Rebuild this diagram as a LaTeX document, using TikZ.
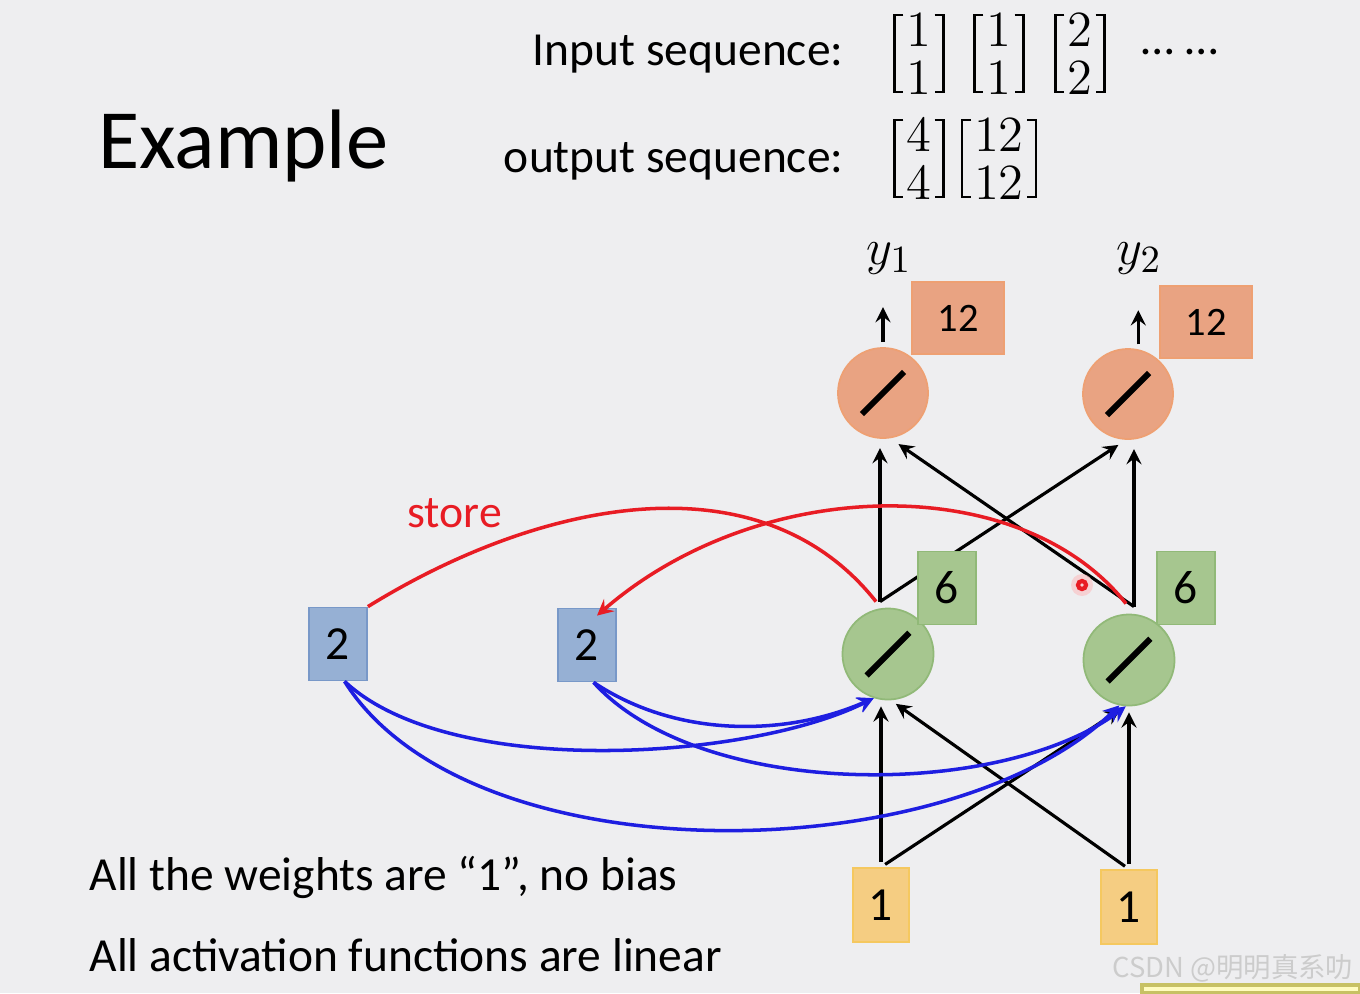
\documentclass[tikz,border=0pt]{standalone}
\usepackage{amsmath}
\usepackage{fontspec}
\setmainfont{Carlito}
\newfontfamily\cjk{Noto Sans CJK SC}
\usetikzlibrary{arrows}
\usetikzlibrary{calc}
\usetikzlibrary{positioning}
\definecolor{slidebg}{RGB}{238,238,240}
\definecolor{outfill}{RGB}{233,163,130}
\definecolor{outdraw}{RGB}{238,160,115}
\definecolor{hidfill}{RGB}{166,198,143}
\definecolor{hiddraw}{RGB}{145,185,120}
\definecolor{memfill}{RGB}{150,176,212}
\definecolor{memdraw}{RGB}{120,152,200}
\definecolor{infill}{RGB}{245,205,130}
\definecolor{indraw}{RGB}{245,200,95}
\definecolor{storered}{RGB}{232,28,36}
\definecolor{copyblue}{RGB}{30,30,225}
\newcommand{\numsize}{\fontsize{13.5}{16}\selectfont}
\tikzset{
    unit/.style={circle, inner sep=0pt, line width=0.5pt},
    outunit/.style={unit, minimum size=0.9cm, fill=outfill, draw=outdraw},
    hidunit/.style={unit, minimum size=0.91cm, fill=hidfill, draw=hiddraw},
    valbox/.style={rectangle, inner sep=0pt, line width=0.5pt, font=\numsize},
    outval/.style={valbox, minimum width=0.92cm, minimum height=0.72cm, fill=outfill, draw=outdraw, font=\fontsize{11.5}{14}\selectfont},
    hidval/.style={valbox, minimum width=0.58cm, minimum height=0.73cm, fill=hidfill, draw=hiddraw},
    memval/.style={valbox, minimum width=0.58cm, minimum height=0.73cm, fill=memfill, draw=memdraw},
    inval/.style={valbox, minimum width=0.56cm, minimum height=0.74cm, fill=infill, draw=indraw},
    slash/.style={draw=black, line width=1.7pt, shorten >=4.6pt, shorten <=4.6pt},
    vec/.style={inner xsep=3pt, inner ysep=0pt, font=\fontsize{14}{13.6}\selectfont},
    brk/.style={draw=black, line width=0.6pt},
    label/.style={inner sep=0pt, font=\fontsize{13.5}{16}\selectfont},
    note/.style={inner sep=0pt, anchor=base west, font=\fontsize{13.5}{16}\selectfont},
}

\begin{document}
\begin{tikzpicture}[x=0.01cm, y=-0.01cm, line width=0.9pt,
    wire/.style={draw=black, ->, >=stealth, shorten >=1.7pt, shorten <=1.4pt},
    upwire/.style={wire, shorten >=2.6pt, shorten <=0pt},
    storeline/.style={draw=storered, line width=1pt},
    copyline/.style={draw=copyblue, line width=1pt, ->, >=stealth}]
	\fill[slidebg] (0,0) rectangle (1360,993);
	\useasboundingbox (0,0) rectangle (1360,993);
	% header
	\node[inner sep=0pt, anchor=base west, font=\fontsize{24}{28}\selectfont] (title) at (97,168) {Example};
	\node[label, anchor=base east] (inlbl) at (845,65) {Input sequence:};
	\node[label, anchor=base east] (outlbl) at (845,172) {output sequence:};
	\node[vec] (in1) at (919,61) {$\begin{matrix}1\\1\end{matrix}$};
	\node[vec] (in2) at (999,61) {$\begin{matrix}1\\1\end{matrix}$};
	\node[vec] (in3) at (1080,61) {$\begin{matrix}2\\2\end{matrix}$};
	\node[label] (more) at (1180,52) {… …};
	\node[vec] (out1) at (919,166) {$\begin{matrix}4\\4\end{matrix}$};
	\node[vec] (out2) at (999,166) {$\begin{matrix}12\\12\end{matrix}$};
	\foreach \v in {in1,in2,in3,out1,out2} {
		\draw[brk] ($(\v.west)+(9,-46)$) -- ++(-9,0) -- ++(0,77) -- ++(9,0);
		\draw[brk] ($(\v.east)+(-9,-46)$) -- ++(9,0) -- ++(0,77) -- ++(-9,0);
	}
	% neurons
	\node[outunit] (o1) at (883,393) {};
	\node[outunit] (o2) at (1128,394) {};
	\node[hidunit] (h1) at (888,654) {};
	\node[hidunit] (h2) at (1129,660) {};
	\foreach \n in {o1,o2,h1,h2}
		\draw[slash] (\n.225) -- (\n.45);
	\node[outval] (v1) at (958,318) {12};
	\node[outval] (v2) at (1206,322) {12};
	\node[memval] (m1) at (338,644) {2};
	\node[memval] (m2) at (587,645) {2};
	\node[inval] (x1) at (881,905) {1};
	\node[inval] (x2) at (1129,907) {1};
	\node[font=\fontsize{15}{17}\selectfont] (y1) at (889,259) {$y_1$};
	\node[font=\fontsize{15}{17}\selectfont] (y2) at (1139,259) {$y_2$};
	\coordinate (h1top) at ($(h1.north)+(-8,-6)$);
	\coordinate (h2top) at ($(h2.north)+(5,-7)$);
	\coordinate (h1red) at ($(h1.north)+(-12,-6)$);
	\coordinate (h2red) at ($(h2.north)+(-3,-10)$);
	\coordinate (t1) at ($(o1.north)+(0,-46)$);
	\coordinate (t2) at ($(o2.77)+(0,-45)$);
	% outputs
	\draw[wire] (o1.north) -- (t1);
	\draw[wire] (o2.77) -- (t2);
	% input -> hidden
	\draw[wire] (x1.north) -- (x1.north |- h1.south);
	\draw[wire] (x1.north) -- ($(h2.south)+(-4,0)$);
	\draw[wire] (x2.north) -- (x2.north |- h2.south);
	\draw[wire] (x2.north) -- ($(h1.south)+(3,0)$);
	% hidden -> output
	\draw[upwire] (h1top) -- (h1top |- o1.south);
	\draw[upwire] (h1top) -- ($(o2.south)+(-2,0)$);
	\draw[upwire] (h2top) -- (h2top |- o2.south);
	\draw[upwire] (h2top) -- ($(o1.south)+(8,0)$);
	% store
	\draw[storeline] (m1.north east) .. controls (540,500) and (760,455) .. (h1red);
	\draw[storeline, ->, >=stealth] (h2red) .. controls (1020,470) and (760,475) .. ($(m2.north)+(10,8)$);
	\node[inner sep=0pt, anchor=base west, text=storered, font=\fontsize{13}{15}\selectfont] (storelbl) at (406,527) {store};
	% memory -> hidden
	\draw[copyline] (m1.-80) .. controls (450,780) and (750,760) .. (h1.252);
	\draw[copyline] (m1.-80) .. controls (470,880) and (950,870) .. (h2.258);
	\draw[copyline] (m2.-80) .. controls (680,740) and (790,735) .. (h1.252);
	\draw[copyline] (m2.-80) .. controls (700,800) and (1000,800) .. (h2.266);
	\node[hidval] (s1) at (947,588) {6};
	\node[hidval] (s2) at (1186,588) {6};
	% pointer
	\fill[storered!25, opacity=0.7] (1082,585) circle[radius=11];
	\draw[storered, line width=1.2pt] (1082,585) circle[radius=4];
	% notes
	\node[note] (rule1) at (88,890) {All the weights are “1”, no bias};
	\node[note] (rule2) at (88,971) {All activation functions are linear};
	\node[inner sep=0pt, anchor=base east, text=gray!40, font=\cjk\fontsize{7.8}{9}\selectfont] (mark) at (1355,977) {CSDN @明明真系叻};
	\draw[fill=yellow!25, draw=yellow!50!gray] (1142,985) rectangle (1360,993);
\end{tikzpicture}
\end{document}
